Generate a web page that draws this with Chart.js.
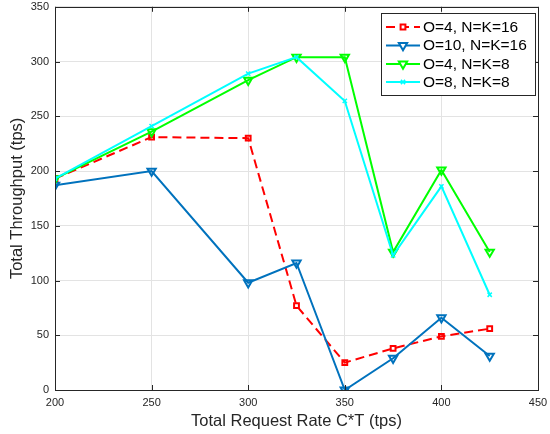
<!DOCTYPE html>
<html>
<head>
<meta charset="utf-8">
<script src="https://cdn.jsdelivr.net/npm/chart.js@4.4.0/dist/chart.umd.min.js"></script>
<style>
  html, body { margin: 0; padding: 0; background: #ffffff; }
  #wrap { width: 550px; height: 434px; }
</style>
</head>
<body>
<div id="wrap"><canvas id="c" width="550" height="434"></canvas></div>
<script>
// ---- data ----
const rates = [200, 250, 300, 325, 350, 375, 400, 425];
const o4nk16 = [193, 231, 230, 77, 25, 38, 49, 56];
const o10nk16 = [187, 200, 98, 116, 0, 29, 66, 31];
const o4nk8 = [193, 236, 283, 304, 304, 126, 201, 126];
const o8nk8 = [193, 241, 289, 304, 264, 123, 186, 87];
const seriesLabels = ['O=4, N=K=16', 'O=10, N=K=16', 'O=4, N=K=8', 'O=8, N=K=8'];
const xTicks = [200, 250, 300, 350, 400, 450];
const yTicks = [0, 50, 100, 150, 200, 250, 300, 350];

const axisColor = '#262626';
const gridColor = '#e3e3e3';
const fontFam = '"Liberation Sans", Arial, Helvetica, sans-serif';

function pts(vals) { return rates.map((x, i) => ({ x: x, y: vals[i] })); }

const datasets = [
  { label: seriesLabels[0], data: pts(o4nk16), borderColor: '#ff0000', backgroundColor: 'rgba(0,0,0,0)',
    borderWidth: 2, borderDash: [9, 5], pointStyle: 'rect', pointRadius: 3.4, pointBorderWidth: 2,
    pointRotation: 0, order: 4 },
  { label: seriesLabels[1], data: pts(o10nk16), borderColor: '#0072bd', backgroundColor: 'rgba(0,0,0,0)',
    borderWidth: 2, pointStyle: 'triangle', pointRadius: 4.8, pointBorderWidth: 2,
    pointRotation: 180, order: 3 },
  { label: seriesLabels[2], data: pts(o4nk8), borderColor: '#00ff00', backgroundColor: 'rgba(0,0,0,0)',
    borderWidth: 2, pointStyle: 'triangle', pointRadius: 4.8, pointBorderWidth: 2,
    pointRotation: 180, order: 2 },
  { label: seriesLabels[3], data: pts(o8nk8), borderColor: '#00ffff', backgroundColor: 'rgba(0,0,0,0)',
    borderWidth: 2, pointStyle: 'crossRot', pointRadius: 3, pointBorderWidth: 1.5,
    pointRotation: 0, order: 1 }
];
datasets.forEach(d => { d.pointBorderColor = d.borderColor; d.pointBackgroundColor = 'rgba(0,0,0,0)'; d.tension = 0; d.fill = false; });

const framePlugin = {
  id: 'frame',
  afterDraw(chart) {
    const ctx = chart.ctx;
    const a = chart.chartArea;
    const xs = chart.scales.x, ys = chart.scales.y;
    ctx.save();
    ctx.strokeStyle = axisColor;
    ctx.lineWidth = 1;
    ctx.setLineDash([]);
    // box
    ctx.strokeRect(Math.round(a.left) + 0.5, Math.round(a.top) + 0.5,
                   Math.round(a.right - a.left), Math.round(a.bottom - a.top));
    // inward ticks
    const tl = 5;
    ctx.beginPath();
    xTicks.forEach(v => {
      const px = Math.round(xs.getPixelForValue(v)) + 0.5;
      ctx.moveTo(px, a.bottom); ctx.lineTo(px, a.bottom - tl);
      ctx.moveTo(px, a.top); ctx.lineTo(px, a.top + tl);
    });
    yTicks.forEach(v => {
      const py = Math.round(ys.getPixelForValue(v)) + 0.5;
      ctx.moveTo(a.left, py); ctx.lineTo(a.left + tl, py);
      ctx.moveTo(a.right, py); ctx.lineTo(a.right - tl, py);
    });
    ctx.stroke();

    // legend
    const lx = 381, ly = 13, lw = 154, lh = 82;
    ctx.fillStyle = '#ffffff';
    ctx.fillRect(lx, ly, lw, lh);
    ctx.strokeStyle = axisColor;
    ctx.strokeRect(lx + 0.5, ly + 0.5, lw, lh);
    const rowY = [27, 45.5, 64, 82];
    chart.data.datasets.forEach((d, i) => {
      const y = rowY[i];
      ctx.save();
      ctx.strokeStyle = d.borderColor;
      ctx.lineWidth = d.borderWidth;
      ctx.setLineDash(d.borderDash || []);
      ctx.beginPath();
      ctx.moveTo(386, y); ctx.lineTo(420, y);
      ctx.stroke();
      ctx.setLineDash([]);
      ctx.lineWidth = d.pointBorderWidth;
      ctx.fillStyle = '#ffffff';
      Chart.helpers.drawPoint(ctx, { pointStyle: d.pointStyle, rotation: d.pointRotation, radius: d.pointRadius, borderWidth: d.pointBorderWidth }, 403, y);
      ctx.restore();
      ctx.fillStyle = '#000000';
      ctx.font = '15.5px ' + fontFam;
      ctx.textBaseline = 'middle';
      ctx.textAlign = 'left';
      ctx.fillText(d.label, 423, y + 0.5);
    });
    ctx.restore();
  }
};

new Chart(document.getElementById('c'), {
  type: 'line',
  data: { datasets: datasets },
  plugins: [framePlugin],
  options: {
    responsive: false,
    animation: false,
    devicePixelRatio: 1,
    layout: { padding: { top: 6, right: 12, left: 0, bottom: 0 } },
    plugins: { legend: { display: false }, tooltip: { enabled: false } },
    scales: {
      x: {
        type: 'linear', min: 200, max: 450,
        afterBuildTicks(scale) { scale.ticks = xTicks.map(v => ({ value: v })); },
        afterFit(scale) { scale.height = 44; scale.paddingLeft = 0; scale.paddingRight = 0; },
        grid: { color: gridColor, drawTicks: false, lineWidth: 1 },
        border: { display: false },
        ticks: { color: axisColor, font: { size: 11, family: fontFam }, padding: 6, maxRotation: 0, autoSkip: false },
        title: { display: true, text: 'Total Request Rate C*T (tps)', color: axisColor,
                 font: { size: 16.5, family: fontFam }, padding: { top: 0, bottom: 3 } }
      },
      y: {
        type: 'linear', min: 0, max: 350,
        afterBuildTicks(scale) { scale.ticks = yTicks.map(v => ({ value: v })); },
        afterFit(scale) { scale.width = 55; scale.paddingTop = 0; scale.paddingBottom = 0; },
        grid: { color: gridColor, drawTicks: false, lineWidth: 1 },
        border: { display: false },
        ticks: { color: axisColor, font: { size: 11, family: fontFam }, padding: 6, autoSkip: false },
        title: { display: true, text: 'Total Throughput (tps)', color: axisColor,
                 font: { size: 16.5, family: fontFam }, padding: { top: 8, bottom: 0 } }
      }
    }
  }
});
</script>
</body>
</html>
